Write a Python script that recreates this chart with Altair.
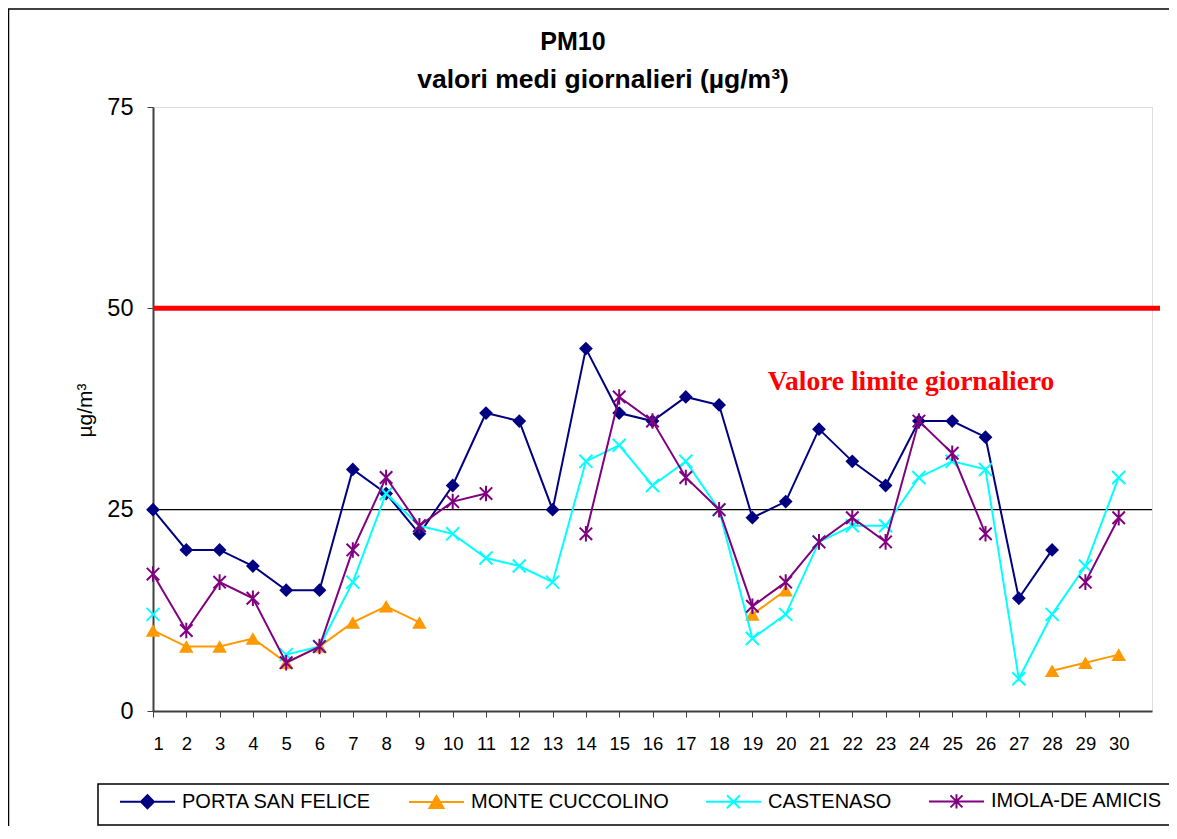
import altair as alt
import pandas as pd

# ---------------- data ----------------
days = list(range(1, 31))
series_names = ["PORTA SAN FELICE", "MONTE CUCCOLINO", "CASTENASO", "IMOLA-DE AMICIS"]
porta = [25, 20, 20, 18, 15, 15, 30, 27, 22, 28, 37, 36, 25, 45, 37, 36, 39, 38, 24, 26,
         35, 31, 28, 36, 36, 34, 14, 20, None, None]
monte = [10, 8, 8, 9, 6, 8, 11, 13, 11, None, None, None, None, None, None, None, None, None,
         12, 15, None, None, None, None, None, None, None, 5, 6, 7]
castenaso = [12, None, None, None, 7, 8, 16, 27, 23, 22, 19, 18, 16, 31, 33, 28, 31, 25, 9, 12,
             21, 23, 23, 29, 31, 30, 4, 12, 18, 29]
imola = [17, 10, 16, 14, 6, 8, 20, 29, 23, 26, 27, None, None, 22, 39, 36, 29, 25, 13, 16,
         21, 24, 21, 36, 32, 22, None, None, 16, 24]
limit_value = [50]
reference_value = [25]
y_ticks = [0, 25, 50, 75]
limit_label = "Valore limite giornaliero"
title_line1 = "PM10"
title_line2 = "valori medi giornalieri (µg/m³)"

series_values = [porta, monte, castenaso, imola]
colors = ["#000080", "#FF9900", "#00FFFF", "#800080"]

# marker shapes (Vega symbols) for the plotted points
point_styles = [
    dict(shape="diamond", filled=True, size=190),
    dict(shape="triangle-up", filled=True, size=210),
    dict(shape="M-1,-1L1,1M-1,1L1,-1", filled=False, size=170, strokeWidth=2),
    dict(shape="M-1,-1L1,1M-1,1L1,-1M0,-1.25L0,1.25", filled=False, size=155, strokeWidth=2),
]

# legend symbols: line segment + marker
legend_paths = [
    "M-1,0H8.17M2.5,0L3.58,-1.08L4.66,0L3.58,1.08Z",
    "M-1,0H8.17M2.41,1L4.75,1L3.58,-1Z",
    "M-1,0H8.17M2.5,-1.08L4.66,1.08M2.5,1.08L4.66,-1.08",
    "M-1,0H8.17M2.58,-1L4.58,1M2.58,1L4.58,-1M3.58,-1.2L3.58,1.2",
]

rows = []
for name, vals in zip(series_names, series_values):
    for d, v in zip(days, vals):
        rows.append({"day": d, "value": v, "series": name})
df = pd.DataFrame(rows)

# ---------------- scales ----------------
x_scale = alt.Scale(domain=[1, 31], nice=False, zero=False)
y_scale = alt.Scale(domain=[0, 75], nice=False, zero=True)

x_axis = alt.Axis(values=days, format="d", title=None, grid=False, labelFontSize=18.5,
                  tickSize=6, labelPadding=17, domainColor="#404040", tickColor="#404040",
                  domainWidth=2, labelColor="black", labelFont="Liberation Sans")
y_axis = alt.Axis(values=y_ticks, title="µg/m³", grid=False, labelFontSize=23.5,
                  tickSize=6, labelPadding=14, domainColor="#404040", tickColor="#404040",
                  domainWidth=2, labelColor="black", labelFont="Liberation Sans",
                  titleFont="Liberation Sans", titleFontSize=21, titleFontWeight="normal",
                  titleColor="black", titleX=-68, titleY=303, titleBaseline="middle")

base = alt.Chart(df)

layers = []

# reference line at 25
ref_rule = alt.Chart(pd.DataFrame({"ref": reference_value})).mark_rule(
    color="black", strokeWidth=1.2
).encode(y=alt.Y("ref:Q", scale=y_scale, axis=y_axis))
layers.append(ref_rule)

# limit line at 50
limit_rule = alt.Chart(pd.DataFrame({"limit": limit_value})).mark_rule(
    color="#FF0000", strokeWidth=5, clip=False
).encode(y=alt.Y("limit:Q", scale=y_scale), x=alt.value(0), x2=alt.value(1007))
layers.append(limit_rule)

for name, col, st in zip(series_names, colors, point_styles):
    sub = base.transform_filter(alt.datum.series == name)
    line = sub.mark_line(color=col, strokeWidth=2).encode(
        x=alt.X("day:Q", scale=x_scale, axis=x_axis),
        y=alt.Y("value:Q", scale=y_scale, axis=y_axis),
    )
    pt_kwargs = dict(shape=st["shape"], filled=st["filled"], size=st["size"], color=col,
                     opacity=1)
    if "strokeWidth" in st:
        pt_kwargs["strokeWidth"] = st["strokeWidth"]
    pts = sub.transform_filter("isValid(datum.value)").mark_point(**pt_kwargs).encode(
        x=alt.X("day:Q", scale=x_scale, axis=x_axis),
        y=alt.Y("value:Q", scale=y_scale, axis=y_axis),
    )
    layers += [line, pts]

# annotation
label = alt.Chart(pd.DataFrame({"t": [limit_label]})).mark_text(
    font="Liberation Serif", fontSize=27.5, fontWeight="bold", color="#FF0000",
    align="center", baseline="middle"
).encode(text="t:N", x=alt.value(758), y=alt.value(275))
layers.append(label)

# chart title (two lines)
t1 = alt.Chart(pd.DataFrame({"t": [title_line1]})).mark_text(
    font="Liberation Sans", fontSize=25, fontWeight="bold", color="black",
    align="center", baseline="middle", clip=False
).encode(text="t:N", x=alt.value(420), y=alt.value(-65))
t2 = alt.Chart(pd.DataFrame({"t": [title_line2]})).mark_text(
    font="Liberation Sans", fontSize=26.5, fontWeight="bold", color="black",
    align="center", baseline="middle", clip=False
).encode(text="t:N", x=alt.value(450), y=alt.value(-27))
layers += [t1, t2]

# legend (from explicit scale domains; no marks drawn)
leg = alt.Legend(orient="none", legendX=-37, legendY=684, direction="horizontal",
                 title=None, columnPadding=33, symbolSize=144, symbolStrokeWidth=2,
                 labelFontSize=20, labelFont="Liberation Sans", labelColor="black",
                 labelLimit=400, labelOffset=46, padding=0)
legend_layer = base.transform_filter("false").mark_point(filled=True, opacity=1).encode(
    fill=alt.Fill("series:N", scale=alt.Scale(domain=series_names, range=colors), legend=leg),
    stroke=alt.Stroke("series:N", scale=alt.Scale(domain=series_names, range=colors), legend=leg),
    shape=alt.Shape("series:N", scale=alt.Scale(domain=series_names, range=legend_paths), legend=leg),
)
layers.append(legend_layer)

# legend box and outer chart frame (top and left edges; the rest lies off the page)
frame_df = pd.DataFrame({"k": [0]})
legend_box = alt.Chart(frame_df).mark_rect(
    filled=False, stroke="black", strokeWidth=1.5, clip=False
).encode(x=alt.value(-55), x2=alt.value(1040), y=alt.value(677), y2=alt.value(718))
frame_top = alt.Chart(frame_df).mark_rule(color="black", strokeWidth=1.5, clip=False).encode(
    x=alt.value(-145), x2=alt.value(1100), y=alt.value(-98))
frame_left = alt.Chart(frame_df).mark_rule(color="black", strokeWidth=1.5, clip=False).encode(
    x=alt.value(-144.5), y=alt.value(-98), y2=alt.value(800))
layers += [legend_box, frame_top, frame_left]

chart = alt.layer(*layers).properties(
    width=999,
    height=604,
    padding={"left": 145, "top": 99, "right": 17, "bottom": 115},
    autosize=alt.AutoSizeParams(type="none"),
).configure_view(stroke="#808080", strokeWidth=2).configure(background="white")

chart.save("out.html", embed_options={"renderer": "svg", "actions": False})
